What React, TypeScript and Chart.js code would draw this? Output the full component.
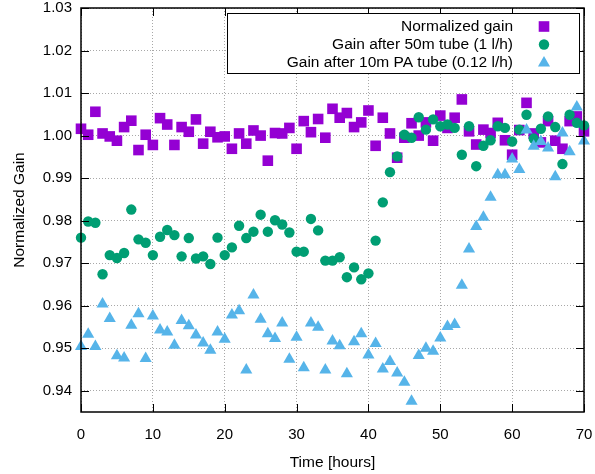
import React, { useEffect, useRef } from "react";
import { Chart, registerables } from "chart.js";

Chart.register(...registerables);

const hours = [
  0, 1, 2, 3, 4, 5, 6, 7, 8, 9, 10, 11, 12, 13, 14, 15, 16, 17, 18, 19, 20,
  21, 22, 23, 24, 25, 26, 27, 28, 29, 30, 31, 32, 33, 34, 35, 36, 37, 38, 39,
  40, 41, 42, 43, 44, 45, 46, 47, 48, 49, 50, 51, 52, 53, 54, 55, 56, 57, 58,
  59, 60, 61, 62, 63, 64, 65, 66, 67, 68, 69, 70,
];

const normalizedGain = [
  1.0016, 1.0002, 1.0056, 1.0005, 0.9998, 0.9988, 1.002, 1.0035, 0.9966, 1.0002,
  0.9978, 1.0041, 1.0026, 0.9978, 1.002, 1.0009, 1.0038, 0.9981, 1.0009, 0.9996,
  0.9998, 0.9969, 1.0005, 0.9981, 1.0012, 1.0, 0.9941, 1.0006, 1.0005, 1.0018,
  0.9969, 1.0034, 1.0008, 1.0039, 0.9995, 1.0063, 1.0042, 1.0053, 1.002, 1.0031,
  1.0059, 0.9976, 1.0042, 1.0005, 0.9948, 0.9995, 1.0029, 1.0, 1.0031, 0.9988,
  1.0047, 1.0018, 1.0042, 1.0085, 1.001, 0.9979, 1.0014, 1.0006, 1.003, 0.9989,
  0.9955, 1.0013, 1.0077, 1.0005, 0.9984, 1.0034, 0.9988, 0.9969, 1.0034, 1.0045,
  1.001,
];

const gain50m = [
  0.976, 0.9798, 0.9795, 0.9674, 0.9719, 0.9712, 0.9724, 0.9826, 0.9756, 0.9748,
  0.9719, 0.9762, 0.9778, 0.9766, 0.9716, 0.9759, 0.9711, 0.9716, 0.9698, 0.976,
  0.9719, 0.9737, 0.9788, 0.9759, 0.9774, 0.9814, 0.9774, 0.9801, 0.9791, 0.9772,
  0.9727, 0.9727, 0.9804, 0.9777, 0.9706, 0.9706, 0.9714, 0.9667, 0.969, 0.9662,
  0.9676, 0.9753, 0.9843, 0.9914, 0.9951, 1.0002, 0.9995, 1.0043, 1.0014, 1.0038,
  1.0022, 1.0026, 1.0018, 0.9955, 1.0022, 0.9928, 0.9976, 0.9989, 1.0022, 1.0018,
  0.9986, 1.0014, 1.0049, 0.9993, 1.0016, 1.0045, 1.002, 0.9933, 1.0049, 1.003,
  1.0024,
];

const gain10mPA = [
  0.9504, 0.9533, 0.9504, 0.9604, 0.957, 0.9482, 0.9477, 0.9554, 0.9581, 0.9476,
  0.9576, 0.9543, 0.9538, 0.9507, 0.9565, 0.9553, 0.9531, 0.9512, 0.9495, 0.9538,
  0.9521, 0.9578, 0.9588, 0.9449, 0.9625, 0.9568, 0.9534, 0.9523, 0.9559, 0.9474,
  0.9526, 0.9454, 0.9559, 0.9549, 0.9449, 0.9517, 0.9506, 0.944, 0.9515, 0.9534,
  0.9484, 0.9511, 0.9451, 0.9469, 0.9442, 0.942, 0.9375, 0.9483, 0.95, 0.9493,
  0.9524, 0.9551, 0.9556, 0.9648, 0.9733, 0.9786, 0.9808, 0.9855, 0.9908, 0.9908,
  0.9945, 0.992, 1.0013, 0.9975, 0.9986, 0.9971, 0.9903, 1.0006, 0.9962, 1.0067,
  0.9987,
];

const seriesNames = [
  "Normalized gain",
  "Gain after 50m tube (1 l/h)",
  "Gain after 10m PA tube (0.12 l/h)",
];
const seriesColors = ["#9400D3", "#009E73", "#56B4E9"];
const seriesShapes = ["rect", "circle", "triangle"];
const seriesRadius = [7.5, 5.2, 7];

const xTickValues = [0, 10, 20, 30, 40, 50, 60, 70];
const yTickValues = [0.94, 0.95, 0.96, 0.97, 0.98, 0.99, 1.0, 1.01, 1.02, 1.03];

const xTitle = "Time [hours]";
const yTitle = "Normalized Gain";

const FONT = "'Liberation Sans', Arial, Helvetica, sans-serif";
const TICK_SIZE = 15;
const TEXT_SIZE = 15.5;

function drawMarker(ctx: CanvasRenderingContext2D, shape: string, x: number, y: number, r: number, color: string) {
  ctx.fillStyle = color;
  ctx.beginPath();
  if (shape === "rect") {
    const s = Math.SQRT1_2 * r;
    ctx.rect(x - s, y - s, 2 * s, 2 * s);
  } else if (shape === "circle") {
    ctx.arc(x, y, r, 0, Math.PI * 2);
  } else {
    ctx.moveTo(x, y - r);
    ctx.lineTo(x + r * 0.866, y + r * 0.5);
    ctx.lineTo(x - r * 0.866, y + r * 0.5);
    ctx.closePath();
  }
  ctx.fill();
}

const framePlugin = {
  id: "gnuFrame",
  afterDatasetsDraw(chart: any) {
    const { ctx, chartArea } = chart;
    const { left, right, top, bottom } = chartArea;
    const xs = chart.scales.x;
    const ys = chart.scales.y;
    const tl = 8;
    ctx.save();
    ctx.strokeStyle = "#000";
    ctx.lineWidth = 1;
    ctx.beginPath();
    xTickValues.forEach((v) => {
      const px = Math.round(xs.getPixelForValue(v)) + 0.5;
      ctx.moveTo(px, bottom);
      ctx.lineTo(px, bottom - tl);
      ctx.moveTo(px, top);
      ctx.lineTo(px, top + tl);
    });
    yTickValues.forEach((v) => {
      const py = Math.round(ys.getPixelForValue(v)) + 0.5;
      ctx.moveTo(left, py);
      ctx.lineTo(left + tl, py);
      ctx.moveTo(right, py);
      ctx.lineTo(right - tl, py);
    });
    ctx.stroke();
    ctx.lineWidth = 1.5;
    ctx.strokeRect(left, top, right - left, bottom - top);
    ctx.restore();
  },
  afterDraw(chart: any) {
    const { ctx, chartArea } = chart;
    const { right, top } = chartArea;
    const boxRight = right - 5;
    const boxLeft = boxRight - 352;
    const boxTop = top + 5;
    const boxH = 60;
    ctx.save();
    ctx.fillStyle = "#fff";
    ctx.fillRect(boxLeft, boxTop, boxRight - boxLeft, boxH);
    ctx.strokeStyle = "#000";
    ctx.lineWidth = 1;
    ctx.strokeRect(Math.round(boxLeft) + 0.5, Math.round(boxTop) + 0.5, boxRight - boxLeft, boxH);
    ctx.font = `${TEXT_SIZE}px ${FONT}`;
    ctx.textAlign = "right";
    ctx.textBaseline = "middle";
    const rowY = [13.5, 31.5, 50];
    seriesNames.forEach((name, i) => {
      const y = boxTop + rowY[i];
      ctx.fillStyle = "#000";
      ctx.fillText(name, boxRight - 66, y);
      drawMarker(ctx, seriesShapes[i], boxRight - 35, y, seriesRadius[i], seriesColors[i]);
    });
    ctx.restore();
  },
};

export default function App() {
  const canvasRef = useRef<HTMLCanvasElement | null>(null);

  useEffect(() => {
    document.body.style.margin = "0";
    const canvas = canvasRef.current;
    if (!canvas) return;
    const seriesData = [normalizedGain, gain50m, gain10mPA];
    const datasets = seriesData.map((vals, i) => ({
      label: seriesNames[i],
      data: hours.map((h, j) => ({ x: h, y: vals[j] })),
      pointStyle: seriesShapes[i],
      pointRadius: seriesRadius[i],
      pointHoverRadius: seriesRadius[i],
      pointBackgroundColor: seriesColors[i],
      pointBorderColor: seriesColors[i],
      pointBorderWidth: 0,
      backgroundColor: seriesColors[i],
      borderColor: seriesColors[i],
      showLine: false,
      clip: false,
      order: 3 - i,
    }));

    const chart = new Chart(canvas, {
      type: "scatter",
      data: { datasets },
      options: {
        animation: false,
        responsive: false,
        maintainAspectRatio: false,
        events: [],
        layout: { padding: { top: 8, right: 11, left: 0, bottom: 0 } },
        plugins: {
          legend: { display: false },
          tooltip: { enabled: false },
        },
        scales: {
          x: {
            type: "linear",
            min: 0,
            max: 70,
            afterBuildTicks: (axis: any) => {
              axis.ticks = xTickValues.map((v) => ({ value: v }));
            },
            afterFit: (scale: any) => {
              scale.height = 62;
              scale.paddingLeft = 0;
              scale.paddingRight = 0;
            },
            grid: {
              color: "#a8a8a8",
              lineWidth: 1,
              drawTicks: false,
            },
            border: { display: false, dash: [1, 2] },
            ticks: {
              padding: 14,
              color: "#000",
              font: { family: FONT, size: TICK_SIZE },
              maxRotation: 0,
              callback: (v: any) => String(v),
            },
            title: {
              display: true,
              text: xTitle,
              color: "#000",
              font: { family: FONT, size: TEXT_SIZE },
              padding: { top: 0, bottom: 2 },
            },
          },
          y: {
            type: "linear",
            min: 0.935,
            max: 1.03,
            afterBuildTicks: (axis: any) => {
              axis.ticks = yTickValues.map((v) => ({ value: v }));
            },
            afterFit: (scale: any) => {
              scale.width = 81;
              scale.paddingTop = 0;
              scale.paddingBottom = 0;
            },
            grid: {
              color: "#a8a8a8",
              lineWidth: 1,
              drawTicks: false,
            },
            border: { display: false, dash: [1, 2] },
            ticks: {
              padding: 9,
              color: "#000",
              font: { family: FONT, size: TICK_SIZE },
              callback: (v: any) => Number(v).toFixed(2),
            },
            title: {
              display: true,
              text: yTitle,
              color: "#000",
              font: { family: FONT, size: TEXT_SIZE },
              padding: { top: 10, bottom: 0 },
            },
          },
        },
      },
      plugins: [framePlugin],
    } as any);

    return () => {
      chart.destroy();
    };
  }, []);

  return (
    <div style={{ position: "absolute", left: 0, top: 0, width: 595, height: 474, background: "#fff" }}>
      <canvas ref={canvasRef} width={595} height={474} style={{ width: 595, height: 474, display: "block" }} />
    </div>
  );
}
